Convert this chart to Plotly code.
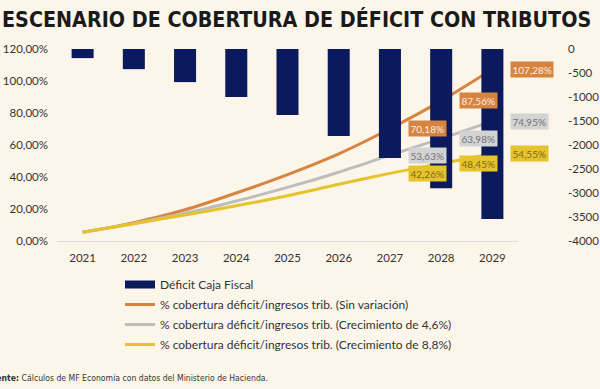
import plotly.graph_objects as go

years = [2021, 2022, 2023, 2024, 2025, 2026, 2027, 2028, 2029]
deficit = [-190, -420, -690, -1000, -1375, -1810, -2270, -2900, -3540]
sin_variacion = [5.5, 11.5, 19.5, 30.0, 41.5, 54.5, 70.18, 87.56, 107.28]
crec_46 = [5.5, 11.0, 17.3, 25.0, 33.5, 43.0, 53.63, 63.98, 74.95]
crec_88 = [5.5, 10.8, 16.3, 22.0, 28.3, 35.5, 42.26, 48.45, 54.55]
labelled_years = [2027, 2028, 2029]

left_ticks = [0, 20, 40, 60, 80, 100, 120]
left_ticktext = [f"{v:.2f}".replace(".", ",") + "%" for v in left_ticks]
right_ticks = [0, -500, -1000, -1500, -2000, -2500, -3000, -3500, -4000]
right_ticktext = [str(v) for v in right_ticks]

NAVY = "#0b1a5c"
ORANGE = "#d6843f"
GRAY = "#bdbdbd"
YELLOW = "#e6c22b"
BG = "#fcf6ea"
TXT = "#333333"
FONT = "Lato"
COND = "DejaVu Sans Condensed, DejaVu Sans, sans-serif"

names = [
    "% cobertura déficit/ingresos trib. (Sin variación)",
    "% cobertura déficit/ingresos trib. (Crecimiento de 4,6%)",
    "% cobertura déficit/ingresos trib. (Crecimiento de 8,8%)",
]

fig = go.Figure()

fig.add_trace(go.Bar(
    x=years, y=deficit, yaxis="y2", name="Déficit Caja Fiscal",
    marker=dict(color=NAVY, line=dict(width=0)), width=0.43,
    showlegend=False, legendgroup="g0",
))
# legend entry for the bars (wide rectangle like the original)
fig.add_trace(go.Scatter(
    x=[None], y=[None], mode="lines", name="Déficit Caja Fiscal",
    line=dict(color=NAVY, width=8), legendgroup="g0", hoverinfo="skip",
))

series = [sin_variacion, crec_46, crec_88]
colors = [ORANGE, GRAY, YELLOW]
for i, (vals, col, nm) in enumerate(zip(series, colors, names)):
    fig.add_trace(go.Scatter(
        x=years, y=vals, mode="lines", name=nm,
        line=dict(color=col, width=3, shape="spline", smoothing=0.8),
        legendgroup=f"g{i+1}",
    ))

box_style = [
    (ORANGE, "#fbeee2"),
    ("#d3d3d3", "#727272"),
    (YELLOW, "#7d6a1c"),
]
annotations = []
for vals, (bg, fc) in zip(series, box_style):
    for yr in labelled_years:
        v = vals[years.index(yr)]
        annotations.append(dict(
            x=yr, y=v, xref="x", yref="y", xanchor="left", yanchor="middle",
            xshift=18, showarrow=False,
            text=f"{v:.2f}".replace(".", ",") + "%",
            bgcolor=bg, borderpad=1.5,
            font=dict(family=FONT, size=10, color=fc),
        ))

annotations.append(dict(
    x=0.0, y=1 - 19 / 389, xref="paper", yref="paper", xanchor="left", yanchor="middle",
    showarrow=False, text="<b>ESCENARIO DE COBERTURA DE DÉFICIT CON TRIBUTOS</b>",
    font=dict(family=COND, size=21.3, color="#1a1a1a"),
))
annotations.append(dict(
    x=-0.027, y=1 - 378 / 389, xref="paper", yref="paper", xanchor="left", yanchor="middle",
    showarrow=False,
    text="<b>Fuente:</b> Cálculos de MF Economía con datos del Ministerio de Hacienda.",
    font=dict(family=COND, size=8.6, color=TXT),
))

fig.update_layout(
    width=600, height=389,
    margin=dict(l=0, r=0, t=0, b=0, autoexpand=False),
    paper_bgcolor=BG, plot_bgcolor=BG,
    font=dict(family=FONT, size=12, color=TXT),
    xaxis=dict(
        domain=[57 / 600, 518 / 600], range=[2020.5, 2029.5],
        tickvals=years, ticktext=[str(y) for y in years],
        showline=True, linecolor="#dcdcdc", linewidth=1,
        ticks="", showgrid=False, zeroline=False, automargin=False,
        tickfont=dict(family=FONT, size=11.5, color=TXT),
        ticklabelstandoff=6,
    ),
    yaxis=dict(
        domain=[(389 - 241) / 389, (389 - 49) / 389], range=[0, 120],
        tickvals=left_ticks, ticktext=left_ticktext,
        showgrid=False, zeroline=False, ticks="", automargin=False,
        tickfont=dict(family=FONT, size=11.5, color=TXT),
        ticklabelstandoff=8,
    ),
    yaxis2=dict(
        overlaying="y", anchor="free", position=0.945, side="right",
        range=[-4000, 0], tickvals=right_ticks, ticktext=right_ticktext,
        showgrid=False, zeroline=False, ticks="", automargin=False,
        tickfont=dict(family=FONT, size=11.5, color=TXT),
    ),
    legend=dict(
        x=0.2, y=1 - 270 / 389, xanchor="left", yanchor="top",
        bgcolor="rgba(0,0,0,0)", tracegroupgap=1,
        font=dict(family=FONT, size=12, color=TXT),
        itemwidth=30,
    ),
    annotations=annotations,
    showlegend=True,
)

fig.write_html(
    "out.html",
    config={"displayModeBar": False},
    post_script="document.body.style.margin='0';document.body.style.overflow='hidden';",
)
